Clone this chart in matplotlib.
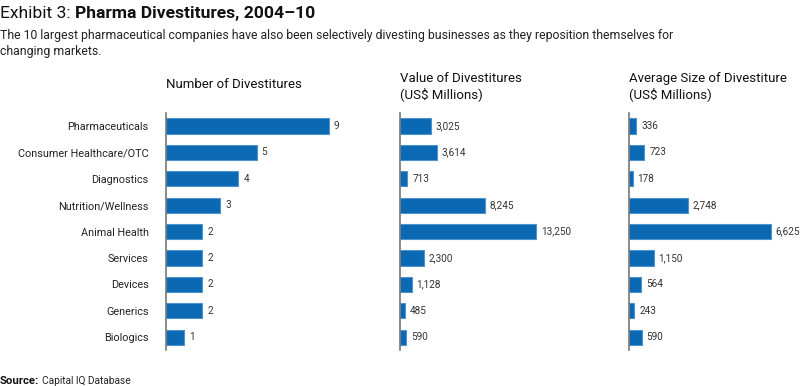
import matplotlib.pyplot as plt

plt.rcParams['font.family'] = ['Roboto', 'DejaVu Sans']

categories = ['Pharmaceuticals', 'Consumer Healthcare/OTC', 'Diagnostics', 'Nutrition/Wellness',
              'Animal Health', 'Services', 'Devices', 'Generics', 'Biologics']
num_divest = [9, 5, 4, 3, 2, 2, 2, 2, 1]
value_divest = [3025, 3614, 713, 8245, 13250, 2300, 1128, 485, 590]
avg_size = [336, 723, 178, 2748, 6625, 1150, 564, 243, 590]

panel_titles = ['Number of Divestitures',
                'Value of Divestitures\n(US$ Millions)',
                'Average Size of Divestiture\n(US$ Millions)']

W, H = 800, 386
fig = plt.figure(figsize=(W / 100, H / 100), dpi=100)
renderer = fig.canvas.get_renderer()

bar_color = '#0b68b3'
edge_color = '#4d94cf'

# (left px, right px, xmax) for each panel
panels = [(166, 370, 204 / (163 / 9)),
          (400, 580, 180 / (136 / 13250)),
          (629, 790, 161 / (142 / 6625))]
series = [num_divest, value_divest, avg_size]

top_px, bot_px = 112.8, 350.4
for i, ((l, r, xmax), vals) in enumerate(zip(panels, series)):
    ax = fig.add_axes([l / W, 1 - bot_px / H, (r - l) / W, (bot_px - top_px) / H])
    y = list(range(len(categories)))
    ax.barh(y, vals, height=0.57, color=bar_color, edgecolor=edge_color, linewidth=0.8)
    ax.set_xlim(0, xmax)
    ax.set_ylim(len(categories) - 0.5, -0.5)
    for s in ['top', 'right', 'bottom']:
        ax.spines[s].set_visible(False)
    ax.spines['left'].set_color('#777777')
    ax.spines['left'].set_linewidth(1.2)
    ax.set_xticks([])
    ax.tick_params(axis='y', length=0, pad=12.5)
    if i == 0:
        ax.set_yticks(y)
        ax.set_yticklabels(categories, fontsize=7.8, color='#222222')
    else:
        ax.set_yticks([])
    for yy, v in zip(y, vals):
        ax.annotate(f'{v:,}', (v, yy), xytext=(3.5, 0), textcoords='offset points',
                    va='center', ha='left', fontsize=7.2, color='#333333',
                    annotation_clip=False)
    ty = 91 if i == 0 else 101
    fig.text(l / W, 1 - ty / H, panel_titles[i], fontsize=9.5, color='#111111',
             ha='left', va='bottom', linespacing=1.15)


def text_pair(x_px, y_px, a, b, size_a, size_b, color_b='#111111', bold_first=False, gap=2):
    t1 = fig.text(x_px / W, 1 - y_px / H, a, fontsize=size_a, ha='left', va='baseline', color='#111111',
                  fontweight='bold' if bold_first else 'normal')
    w = t1.get_window_extent(renderer).width
    fig.text((x_px + w + gap) / W, 1 - y_px / H, b, fontsize=size_b, ha='left', va='baseline', color=color_b,
             fontweight='normal' if bold_first else 'bold')


text_pair(0, 18, 'Exhibit 3:', 'Pharma Divestitures, 2004–10', 12.6, 12.6, gap=4)
fig.text(0.0, 1 - 55 / H,
         'The 10 largest pharmaceutical companies have also been selectively divesting businesses as they reposition themselves for\nchanging markets.',
         fontsize=8.8, ha='left', va='baseline', color='#222222', linespacing=1.3)
text_pair(0, 384, 'Source:', 'Capital IQ Database', 8.2, 7.3, color_b='#222222', bold_first=True, gap=2.5)

fig.savefig('out.png', dpi=100, facecolor='white')
